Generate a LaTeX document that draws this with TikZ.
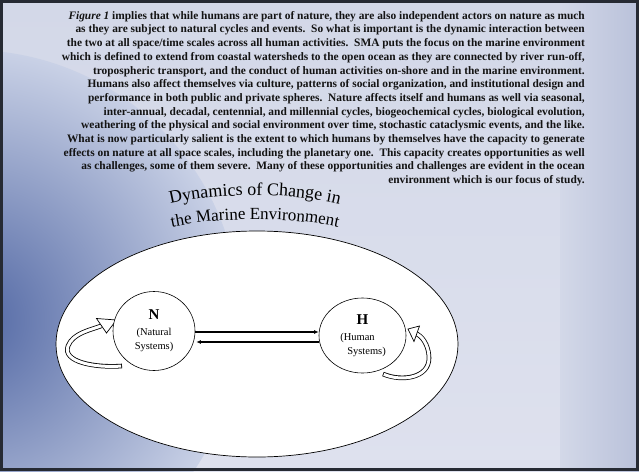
\documentclass[tikz,border=0pt]{standalone}
\usepackage{fontspec}
\setmainfont{Liberation Serif}
\newfontfamily\titlefam{Liberation Serif}
\usetikzlibrary{shapes.geometric,arrows.meta,decorations.text,calc}
\definecolor{bgtop}{HTML}{D3D8E8}
\definecolor{bgbot}{HTML}{DEE1EE}
\definecolor{globein}{HTML}{5066A3}
\definecolor{globeout}{HTML}{C9D1E6}
\definecolor{edgec}{HTML}{B9C1DA}
\definecolor{framec}{HTML}{262A33}
\definecolor{inkc}{HTML}{131313}
\newcommand{\bodyfont}{\fontsize{11.4}{13.7}\selectfont\bfseries}
\newcommand{\titleA}{\titlefam\fontsize{18}{18}\selectfont}
\newcommand{\titleB}{\titlefam\fontsize{17}{17}\selectfont}
\begin{document}
\begin{tikzpicture}[x=1pt,y=-1pt,
  sys/.style={ellipse, draw=black, line width=0.6pt, fill=white, inner sep=0pt,
              align=center, font=\fontsize{10.5}{14}\selectfont},
  conn/.style={line width=1.5pt, -{Latex[length=4.5pt,width=4pt]}},
  tubeout/.style={line width=4.6pt, black, line cap=butt},
  tubein/.style={line width=3pt, white, line cap=butt, shorten <=0.8pt},
  headc/.style={fill=white, draw=black, line width=0.7pt, line join=miter}]
\useasboundingbox (0,0) rectangle (639,471);
% background
\shade[top color=bgtop, bottom color=bgbot] (0,0) rectangle (639,471);
\shade[left color=bgtop, right color=edgec] (560,0) rectangle (639,471);
\begin{scope}
  \clip (0,0) rectangle (639,471);
  \shade[inner color=globein, outer color=globeout] (-30,320) circle (270);
\end{scope}
% body text
\node[anchor=north east, align=right, font=\bodyfont, text=inkc, inner sep=0pt] (body) at (585,11)
{\textit{Figure 1} implies that while humans are part of nature, they are also independent actors on nature as much\\
as they are subject to natural cycles and events.\ \ So what is important is the dynamic interaction between\\
the two at all space/time scales across all human activities.\ \ SMA puts the focus on the marine environment\\
which is defined to extend from coastal watersheds to the open ocean as they are connected by river run-off,\\
tropospheric transport, and the conduct of human activities on-shore and in the marine environment.\\
Humans also affect themselves via culture, patterns of social organization, and institutional design and\\
performance in both public and private spheres.\ \ Nature affects itself and humans as well via seasonal,\\
inter-annual, decadal, centennial, and millennial cycles, biogeochemical cycles, biological evolution,\\
weathering of the physical and social environment over time, stochastic cataclysmic events, and the like.\\
What is now particularly salient is the extent to which humans by themselves have the capacity to generate\\
effects on nature at all space scales, including the planetary one.\ \ This capacity creates opportunities as well\\
as challenges, some of them severe.\ \ Many of these opportunities and challenges are evident in the ocean\\
environment which is our focus of study.};
% title (arched)
\path[decorate, decoration={text along path, text align=center,
   text={|\titleA|Dynamics of Change in}}]
   (156,208) .. controls (208,191) and (302,191) .. (354,208);
\path[decorate, decoration={text along path, text align=center,
   text={|\titleB|the Marine Environment}}]
   (160,230) .. controls (212,216) and (298,216) .. (350,230);
% environment ellipse
\node[ellipse, draw=black, line width=0.7pt, fill=white, minimum width=402, minimum height=226, inner sep=0pt] (env) at (257,344) {};
% self loops (drawn before the system circles)
\draw[tubeout] (122,366) .. controls (95,368) and (62,362) .. (68,346) .. controls (73,333) and (90.3,330.1) .. (101.5,325.8);
\draw[tubein]  (122,366) .. controls (95,368) and (62,362) .. (68,346) .. controls (73,333) and (90.3,330.1) .. (101.5,325.8);
\draw[headc] (96.5,318.5) -- (116.5,320) -- (106.5,333) -- cycle;
\draw[tubeout] (383,374) .. controls (402,382) and (429,378) .. (429,358) .. controls (429,350) and (425.5,338.5) .. (416.7,333.8);
\draw[tubein]  (383,374) .. controls (402,382) and (429,378) .. (429,358) .. controls (429,350) and (425.5,338.5) .. (416.7,333.8);
\draw[headc] (419.5,326) -- (408,329) -- (414,341.5) -- cycle;
% system nodes
\node[sys, minimum width=82, minimum height=79] (N) at (154,331)
  {{\fontsize{15}{15}\selectfont\bfseries N}\\[2pt](Natural\\Systems)};
\node[sys, minimum width=87, minimum height=75] (H) at (362.5,335.5)
  {{\fontsize{15}{15}\selectfont\bfseries H}\\[2pt]\hspace*{-10pt}(Human\\\hspace*{8pt}Systems)};
% connectors
\coordinate (ya) at (0,332);
\coordinate (yb) at (0,342);
\draw[conn] (N.east |- ya) -- (H.west |- ya);
\draw[conn] (H.west |- yb) -- ([xshift=1pt]N.east |- yb);
% frame
\draw[framec, line width=3pt] (1.5,1.5) rectangle (637.5,469.5);
\end{tikzpicture}
\end{document}
